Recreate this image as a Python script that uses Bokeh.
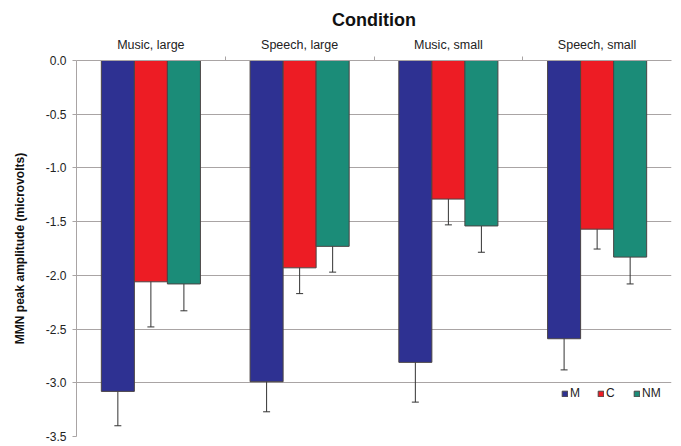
from bokeh.plotting import figure
from bokeh.models import ColumnDataSource, Range1d, FixedTicker, NumeralTickFormatter, Whisker, TeeHead, Legend, LegendItem
from bokeh.embed import file_html
from bokeh.resources import INLINE

groups = ["Music, large", "Speech, large", "Music, small", "Speech, small"]
series = ["M", "C", "NM"]
M = [-3.08, -2.99, -2.81, -2.59]
M_err = [0.32, 0.28, 0.37, 0.29]
C = [-2.06, -1.93, -1.29, -1.57]
C_err = [0.42, 0.24, 0.24, 0.185]
NM = [-2.08, -1.73, -1.54, -1.83]
NM_err = [0.25, 0.24, 0.245, 0.25]
colors = ["#2E3192", "#ED1C24", "#1B8C78"]
y_ticks = [0.0, -0.5, -1.0, -1.5, -2.0, -2.5, -3.0, -3.5]

FONT = "Liberation Sans"
GRID = "#a9a4a4"

p = figure(width=672, height=443, output_backend="svg", toolbar_location=None,
           x_range=Range1d(0, 4), y_range=Range1d(-3.5, 0),
           x_axis_location="above", title="Condition",
           min_border_left=76, min_border_right=1, min_border_top=60, min_border_bottom=7)
p.title.align = "center"
p.title.text_font = FONT
p.title.text_font_size = "18px"
p.title.text_font_style = "bold"
p.title.text_color = "#111111"
p.title.standoff = 9
p.outline_line_color = None
p.background_fill_color = "white"

bw = 0.222
offsets = [-bw, 0.0, bw]
vals = [M, C, NM]
errs = [M_err, C_err, NM_err]
centers = [i + 0.5 for i in range(len(groups))]
items = []
for k, name in enumerate(series):
    xs = [c + offsets[k] for c in centers]
    src = ColumnDataSource(dict(
        x=xs, v=vals[k],
        up=[v + e for v, e in zip(vals[k], errs[k])],
        lo=[v - e for v, e in zip(vals[k], errs[k])]))
    r = p.vbar(x="x", width=bw, top=0, bottom="v", source=src,
               fill_color=colors[k], line_color="#4a4444", line_width=1)
    items.append(LegendItem(label=name, renderers=[r]))
    w = Whisker(base="x", upper="up", lower="lo", source=src,
                line_color="#333333", line_width=1,
                upper_head=TeeHead(size=7, line_color="#333333", line_width=1),
                lower_head=TeeHead(size=7, line_color="#333333", line_width=1))
    p.add_layout(w)

# top categorical-like axis
ax = p.xaxis[0]
ax.ticker = FixedTicker(ticks=centers, minor_ticks=[1, 2, 3])
ax.major_label_overrides = {c: g for c, g in zip(centers, groups)}
ax.major_tick_line_color = None
ax.major_tick_out = 0
ax.major_tick_in = 0
ax.minor_tick_out = 4
ax.minor_tick_in = 0
ax.minor_tick_line_color = GRID
ax.axis_line_color = GRID
ax.major_label_text_font = FONT
ax.major_label_text_font_size = "12.5px"
ax.major_label_text_color = "#222222"
ax.major_label_standoff = 5

ay = p.yaxis[0]
ay.ticker = FixedTicker(ticks=y_ticks)
ay.formatter = NumeralTickFormatter(format="0.0")
ay.minor_tick_line_color = None
ay.major_tick_out = 4
ay.major_tick_in = 0
ay.major_tick_line_color = GRID
ay.axis_line_color = GRID
ay.major_label_text_font = FONT
ay.major_label_text_font_size = "12px"
ay.major_label_text_color = "#222222"
ay.major_label_standoff = 6
ay.axis_label = "MMN peak amplitude (microvolts)"
ay.axis_label_text_font = FONT
ay.axis_label_text_font_size = "12px"
ay.axis_label_text_font_style = "bold"
ay.axis_label_text_color = "#111111"
ay.axis_label_standoff = 16

p.xgrid.grid_line_color = None
p.ygrid.ticker = FixedTicker(ticks=y_ticks)
p.ygrid.grid_line_color = GRID
p.ygrid.grid_line_width = 1

legend = Legend(items=items, orientation="horizontal", location=(485, 36),
                glyph_width=7, glyph_height=7, label_height=12, label_standoff=2,
                spacing=7, padding=0, margin=0,
                label_text_font=FONT, label_text_font_size="12px",
                label_text_color="#222222",
                background_fill_alpha=0, border_line_color=None)
p.add_layout(legend)

open("out.html", "w").write(file_html(p, INLINE))
